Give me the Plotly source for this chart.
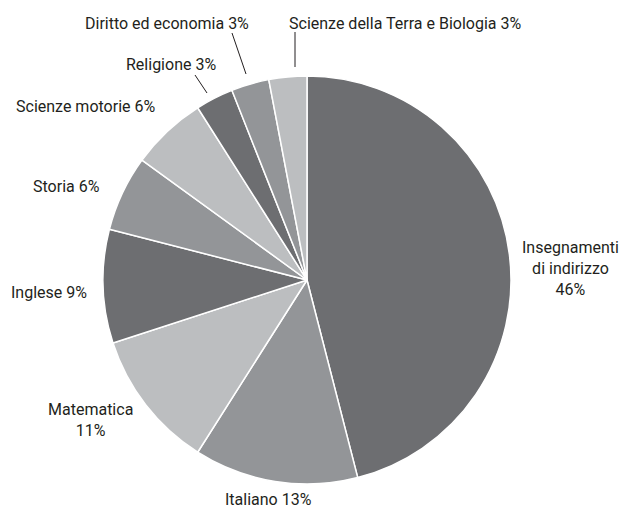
import plotly.graph_objects as go

subjects = ["Insegnamenti di indirizzo", "Italiano", "Matematica", "Inglese", "Storia",
            "Scienze motorie", "Religione", "Diritto ed economia", "Scienze della Terra e Biologia"]
percent = [46, 13, 11, 9, 6, 6, 3, 3, 3]
label_text = ["Insegnamenti<br>di indirizzo<br>46%", "Italiano 13%", "Matematica<br>11%", "Inglese 9%",
              "Storia 6%", "Scienze motorie 6%", "Religione 3%", "Diritto ed economia 3%",
              "Scienze della Terra e Biologia 3%"]

DARK, MID, LIGHT = "#6d6e71", "#939598", "#bcbec0"
colors = [DARK, MID, LIGHT, DARK, MID, LIGHT, DARK, MID, LIGHT]

W, H = 620, 509
def px(x, y):
    return x / W, 1 - y / H

fig = go.Figure(go.Pie(
    labels=subjects, values=percent, sort=False, direction="clockwise", rotation=0,
    marker=dict(colors=colors, line=dict(color="white", width=1.5)),
    textinfo="none", hoverinfo="label+percent", showlegend=False,
    domain=dict(x=[px(103, 0)[0], px(511, 0)[0]], y=[px(0, 484)[1], px(0, 76)[1]]),
))

# label anchor positions (pixels in the window)
label_pos = [(570, 268), (268, 499), (91, 420), (49, 292), (66, 187), (85, 106),
             (171, 64), (167, 24), (405, 24)]
font = dict(family="Roboto", size=16, color="#231f20")
for txt, (x, y) in zip(label_text, label_pos):
    ax, ay = px(x, y)
    fig.add_annotation(x=ax, y=ay, xref="paper", yref="paper", text=txt, showarrow=False,
                       font=font, align="center", xanchor="center", yanchor="middle")

leaders = [((195, 75), (207, 93)), ((232, 33), (246, 74)), ((295, 32), (295, 67))]
for (x0, y0), (x1, y1) in leaders:
    a0, b0 = px(x0, y0)
    a1, b1 = px(x1, y1)
    fig.add_shape(type="line", xref="paper", yref="paper", x0=a0, y0=b0, x1=a1, y1=b1,
                  line=dict(color="#231f20", width=1))

fig.update_layout(width=W, height=H, margin=dict(l=0, r=0, t=0, b=0),
                  paper_bgcolor="white", plot_bgcolor="white")
fig.write_html("out.html", config={"displayModeBar": False},
               post_script="document.body.style.margin='0';document.body.style.overflow='hidden';")
